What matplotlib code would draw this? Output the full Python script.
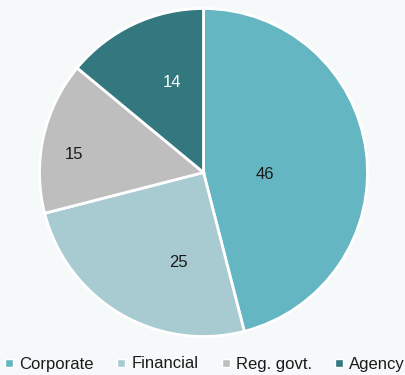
import matplotlib
matplotlib.use('Agg')
import numpy as np
import matplotlib.pyplot as plt
from matplotlib.lines import Line2D

plt.rcParams['font.family'] = ['Liberation Sans', 'DejaVu Sans']

categories = ['Corporate', 'Financial', 'Reg. govt.', 'Agency']
values = [46, 25, 15, 14]
colors = ['#63b6c2', '#a8cad1', '#bebebe', '#33777f']
label_colors = ['#1a1a1a', '#1a1a1a', '#1a1a1a', '#ffffff']
# where each number sits: angle (deg) and distance as a fraction of the radius
label_angle = [-1.4, -105.7, 172.3, 109.2]
label_dist = [0.375, 0.573, 0.797, 0.58]

bg = '#f6f9fa'
W, H = 406, 375
fig = plt.figure(figsize=(W / 100, H / 100), dpi=100, facecolor=bg)

cx, cy, r = 203.5, 375 - 172.5, 164
ax = fig.add_axes([(cx - r) / W, (cy - r) / H, 2 * r / W, 2 * r / H])
ax.set_facecolor(bg)
ax.pie(values, colors=colors, startangle=90, counterclock=False,
       wedgeprops=dict(edgecolor='white', linewidth=2))
ax.set_xlim(-1, 1)
ax.set_ylim(-1, 1)
ax.axis('off')

for v, a, d, c in zip(values, label_angle, label_dist, label_colors):
    t = np.deg2rad(a)
    ax.text(d * np.cos(t), d * np.sin(t), str(v), ha='center', va='center',
            fontsize=12, color=c)

handles = [Line2D([], [], marker='s', linestyle='none', markersize=5.5,
                  markerfacecolor=c, markeredgecolor='white', markeredgewidth=1)
           for c in colors]
fig.legend(handles, categories, loc='center', bbox_to_anchor=(0.505, 1 - 364 / H),
           ncol=4, frameon=False, fontsize=12, handlelength=0.5,
           handletextpad=0.35, columnspacing=1.4, labelcolor='#1a1a1a')

fig.savefig('out.png', dpi=100, facecolor=bg)
